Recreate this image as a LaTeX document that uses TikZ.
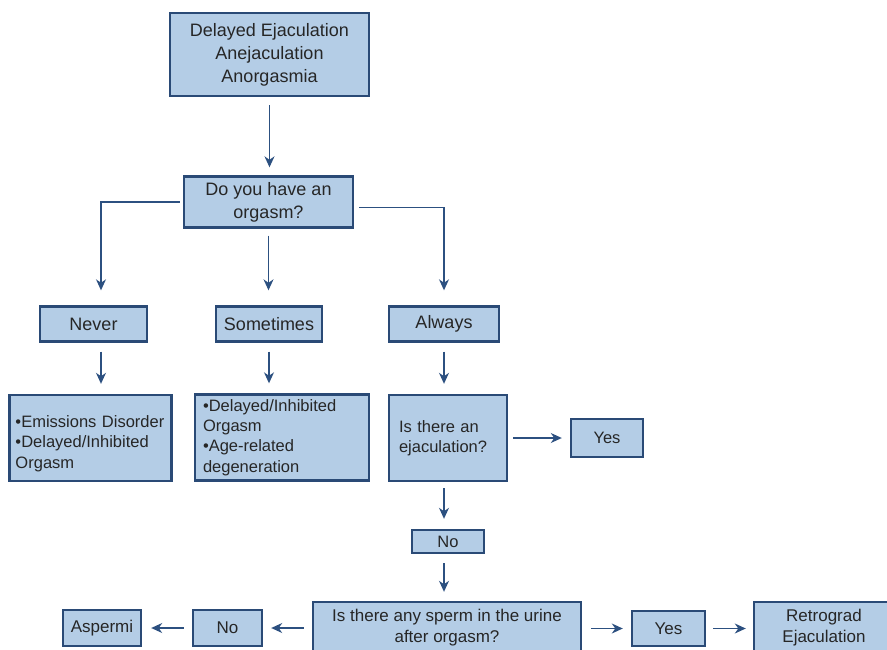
\documentclass[tikz,border=0pt]{standalone}
\usepackage{fontspec}
\setmainfont{Liberation Sans}
\usetikzlibrary{arrows.meta,calc}
\definecolor{boxfill}{RGB}{180,205,230}
\definecolor{boxline}{RGB}{42,74,118}
\definecolor{arrline}{RGB}{44,80,128}
\tikzset{
  box/.style={draw=boxline, fill=boxfill, line width=2.4pt, inner sep=0pt, align=center, text=black!85},
  big/.style={font=\fontsize{18}{23}\selectfont},
  mid/.style={font=\fontsize{16.5}{20.3}\selectfont},
  low/.style={font=\fontsize{17}{21}\selectfont},
  arr/.style={draw=arrline, line width=1.3pt, -{Stealth[length=11pt,width=10pt,inset=3.5pt]}},
}
\begin{document}
\begin{tikzpicture}[x=1pt,y=-1pt]
\useasboundingbox (0,0) rectangle (887,649);
% boxes
\node[box,big,minimum width=199pt,minimum height=83pt] (top) at (269.5,54.5) {Delayed Ejaculation\\Anejaculation\\Anorgasmia};
\node[box,big,minimum width=169pt,minimum height=51pt] (q1) at (268.5,202) {Do you have an\\orgasm?};
\node[box,big,minimum width=107pt,minimum height=35pt] (never) at (93.5,324) {Never};
\node[box,big,minimum width=106pt,minimum height=35pt] (some) at (269,324) {Sometimes};
\node[box,big,minimum width=110pt,minimum height=35pt] (always) at (444,324) {Always};
\node[box,mid,minimum width=162pt,minimum height=86pt,text width=150pt,align=left] (d1) at (90.5,438) {\rule{0pt}{23pt}•Emissions Disorder\\•Delayed/Inhibited\\Orgasm};
\node[box,mid,minimum width=174pt,minimum height=86pt,text width=158pt,align=left] (d2) at (282,437.5) {•Delayed/Inhibited\\Orgasm\\•Age-related\\degeneration};
\node[box,mid,minimum width=118pt,minimum height=86pt,text width=98pt,align=left] (ejac) at (448,438) {Is there an\\ejaculation?};
\node[box,mid,minimum width=72pt,minimum height=38pt] (yes1) at (607,438) {Yes};
\node[box,mid,minimum width=72pt,minimum height=23pt] (no1) at (448,541.5) {No};
\node[box,low,minimum width=268pt,minimum height=52pt] (sperm) at (447,628) {Is there any sperm in the urine\\after orgasm?};
\node[box,low,minimum width=73pt,minimum height=35pt] (yes2) at (668.5,628.5) {Yes};
\node[box,low,minimum width=140pt,minimum height=52pt] (retro) at (824,628) {Retrograd\\Ejaculation};
\node[box,low,minimum width=69pt,minimum height=36pt] (no2) at (227.5,628) {No};
\node[box,low,minimum width=78pt,minimum height=36pt] (asp) at (102,628) {Aspermi};
% connectors
\draw[arr,shorten <=8pt,shorten >=8pt] (top.south) -- (top.south |- q1.north);
\draw[arr,shorten <=3pt,shorten >=15pt] (q1.west) -| ([xshift=7.5pt]never.north);
\draw[arr,shorten <=7pt,shorten >=15pt] (q1.south) -- (q1.south |- some.north);
\draw[arr,shorten <=5pt,shorten >=15pt] ([yshift=-5.5pt]q1.east) -| (always.north);
\draw[arr,shorten <=9pt,shorten >=10pt] ([xshift=7.5pt]never.south) -- ([xshift=7.5pt]never.south |- d1.north);
\draw[arr,shorten <=9pt,shorten >=10pt] (some.south) -- (some.south |- d2.north);
\draw[arr,shorten <=9pt,shorten >=10pt] (always.south) -- (always.south |- ejac.north);
\draw[arr,shorten <=5pt,shorten >=8pt] (ejac.east) -- (yes1.west);
\draw[arr,shorten <=6pt,shorten >=10pt] ([xshift=-4pt]ejac.south) -- ([xshift=-4pt]ejac.south |- no1.north);
\draw[arr,shorten <=9pt,shorten >=9pt] ([xshift=-4pt]no1.south) -- ([xshift=-4pt]no1.south |- sperm.north);
\draw[arr,shorten <=9pt,shorten >=8pt] (sperm.east |- yes2.west) -- (yes2.west);
\draw[arr,shorten <=7pt,shorten >=7pt] (yes2.east) -- (yes2.east -| retro.west);
\draw[arr,shorten <=8pt,shorten >=8pt] (sperm.west |- no2.east) -- (no2.east);
\draw[arr,shorten <=8pt,shorten >=9pt] (no2.west) -- (asp.east);
\end{tikzpicture}
\end{document}
